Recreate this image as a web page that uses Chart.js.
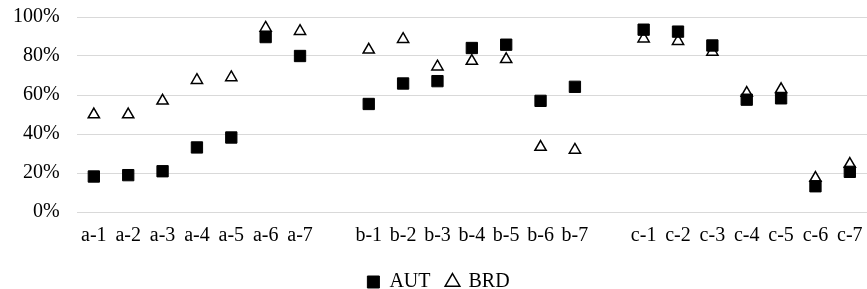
<!DOCTYPE html>
<html lang="en">
<head>
    <meta charset="UTF-8">
    <title>AUT / BRD</title>
    <script src="https://cdn.jsdelivr.net/npm/chart.js@4/dist/chart.umd.min.js"></script>
    <style>
        html, body { margin: 0; padding: 0; background: #fff; }
        #wrap { position: relative; width: 867px; height: 289px; }
    </style>
</head>
<body>
<div id="wrap">
    <canvas id="myChart"></canvas>
</div>
<script>
    // categories (empty slots separate the three groups)
    const labels = ['a-1','a-2','a-3','a-4','a-5','a-6','a-7', '',
                    'b-1','b-2','b-3','b-4','b-5','b-6','b-7', '',
                    'c-1','c-2','c-3','c-4','c-5','c-6','c-7'];

    // values in percent
    const aut = [18.2, 18.9, 20.9, 33.1, 38.2, 89.7, 80.0, null,
                 55.4, 65.9, 67.1, 84.1, 85.8, 57.0, 64.2, null,
                 93.5, 92.5, 85.4, 57.6, 58.3, 13.2, 20.6];
    const brd = [50.0, 50.0, 57.0, 67.6, 69.0, 94.4, 92.7, null,
                 83.2, 88.6, 74.5, 77.4, 78.3, 33.3, 31.8, null,
                 88.9, 87.6, 82.1, 61.0, 62.9, 17.4, 24.6];

    const yTicks = [0, 20, 40, 60, 80, 100];

    const font = { family: 'Liberation Serif', size: 20 };

    var ctx = document.getElementById('myChart').getContext('2d');
    var myChart = new Chart(ctx, {
        type: 'line',
        data: {
            labels: labels,
            datasets: [{
                label: 'AUT',
                data: aut,
                showLine: false,
                pointStyle: 'rect',
                pointRadius: 8,
                pointBorderWidth: 1,
                backgroundColor: '#000',
                borderColor: '#000'
            }, {
                label: 'BRD',
                data: brd,
                showLine: false,
                pointStyle: 'triangle',
                pointRadius: 6.5,
                pointBorderWidth: 1.5,
                backgroundColor: '#fff',
                borderColor: '#000'
            }]
        },
        options: {
            responsive: true,
            maintainAspectRatio: false,
            animation: false,
            layout: { autoPadding: false, padding: { left: 10, right: 0, top: 17, bottom: -13 } },
            plugins: {
                tooltip: { enabled: false },
                legend: {
                    position: 'bottom',
                    labels: {
                        usePointStyle: true,
                        boxWidth: 12,
                        boxHeight: 12,
                        padding: 16,
                        color: '#000',
                        font: font
                    }
                }
            },
            scales: {
                x: {
                    offset: true,
                    grid: { display: true, drawOnChartArea: false, tickColor: 'rgba(0,0,0,0)', tickLength: 12 },
                    border: { display: false },
                    ticks: { color: '#000', font: font, padding: 0, maxRotation: 0, autoSkip: false },
                    // blank title only adds room between the labels and the legend
                    title: { display: true, text: ' ', font: { size: 5 }, padding: { top: 0, bottom: 2 } },
                    // labels sit inside the offset slots, no extra side padding wanted
                    afterFit: (axis) => { axis.paddingLeft = 0; axis.paddingRight = 0; }
                },
                y: {
                    min: 0,
                    max: 100,
                    afterBuildTicks: (axis) => { axis.ticks = yTicks.map(v => ({ value: v })); },
                    grid: { color: '#d9d9d9', lineWidth: 1, tickColor: 'rgba(0,0,0,0)', tickLength: 14 },
                    border: { display: false },
                    ticks: {
                        color: '#000',
                        font: font,
                        padding: 3,
                        callback: (v) => v + '%'
                    }
                }
            }
        }
    });
</script>
</body>
</html>
